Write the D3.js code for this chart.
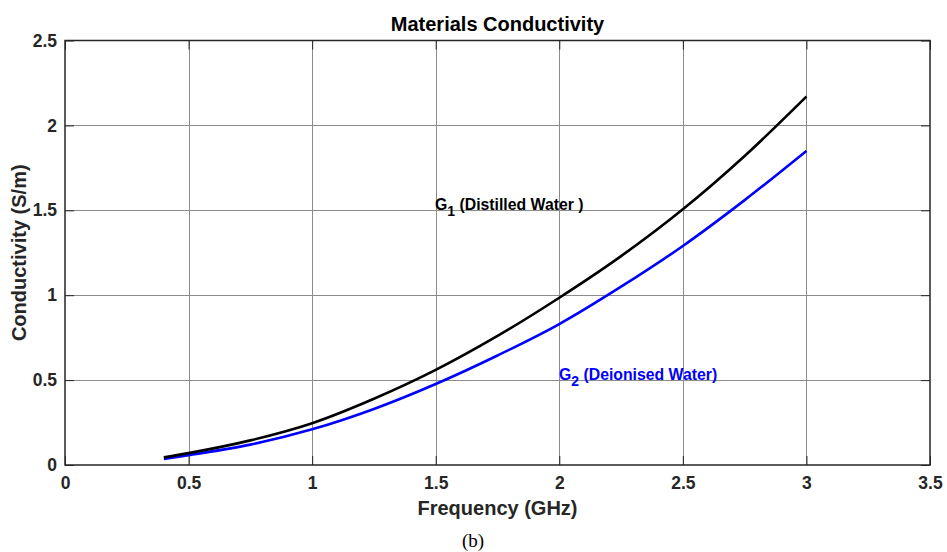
<!DOCTYPE html>
<html>
<head>
<meta charset="utf-8">
<script src="https://cdn.jsdelivr.net/npm/d3@7"></script>
<style>
  html, body { margin: 0; padding: 0; background: #fff; }
  svg { display: block; }
  text { font-family: "Liberation Sans", Arial, sans-serif; }
</style>
</head>
<body>
<div id="chart"></div>
<script>
// Frequency samples (GHz)
const frequency = [0.4, 0.5, 0.75, 1.0, 1.25, 1.5, 1.75, 2.0, 2.25, 2.5, 2.75, 3.0];
// Conductivity (S/m) for distilled water (G1)
const distilled = [0.045, 0.07, 0.145, 0.246, 0.39, 0.56, 0.76, 0.985, 1.23, 1.506, 1.82, 2.17];
// Conductivity (S/m) for deionised water (G2)
const deionised = [0.035, 0.058, 0.12, 0.21, 0.33, 0.477, 0.645, 0.83, 1.05, 1.29, 1.56, 1.85];

const xTicks = [0, 0.5, 1, 1.5, 2, 2.5, 3, 3.5];
const yTicks = [0, 0.5, 1, 1.5, 2, 2.5];

const W = 947, H = 552;
const margin = { left: 65, right: 17, top: 40.5, bottom: 87 };

const svg = d3.select("#chart").append("svg")
  .attr("width", W).attr("height", H);

const x = d3.scaleLinear().domain([0, 3.5]).range([margin.left, W - margin.right]);
const y = d3.scaleLinear().domain([0, 2.5]).range([H - margin.bottom, margin.top]);

const x0 = x.range()[0], x1 = x.range()[1];
const y0 = y.range()[0], y1 = y.range()[1];

// grid
const grid = svg.append("g").attr("stroke", "#8c8c8c").attr("stroke-width", 1);
grid.selectAll("line.v").data(xTicks.slice(1, -1)).join("line")
  .attr("x1", d => Math.round(x(d)) + 0.5).attr("x2", d => Math.round(x(d)) + 0.5)
  .attr("y1", y1).attr("y2", y0);
grid.selectAll("line.h").data(yTicks.slice(1, -1)).join("line")
  .attr("x1", x0).attr("x2", x1)
  .attr("y1", d => Math.round(y(d)) + 0.5).attr("y2", d => Math.round(y(d)) + 0.5);

// axes with inward ticks
const axisColor = "#262626";
const tickLen = 9;
const xAxis = svg.append("g").attr("transform", `translate(0,${y0})`)
  .call(d3.axisBottom(x).tickValues(xTicks).tickSizeInner(-tickLen).tickSizeOuter(0).tickPadding(12)
    .tickFormat(d3.format("~g")));
const xAxisTop = svg.append("g").attr("transform", `translate(0,${y1})`)
  .call(d3.axisTop(x).tickValues(xTicks).tickSizeInner(-tickLen).tickSizeOuter(0).tickFormat(""));
const yAxis = svg.append("g").attr("transform", `translate(${x0},0)`)
  .call(d3.axisLeft(y).tickValues(yTicks).tickSizeInner(-tickLen).tickSizeOuter(0).tickPadding(8)
    .tickFormat(d3.format("~g")));
const yAxisRight = svg.append("g").attr("transform", `translate(${x1},0)`)
  .call(d3.axisRight(y).tickValues(yTicks).tickSizeInner(-tickLen).tickSizeOuter(0).tickFormat(""));

[xAxis, xAxisTop, yAxis, yAxisRight].forEach(g => {
  g.select(".domain").remove();
  g.selectAll(".tick line").attr("stroke", axisColor).attr("stroke-width", 1);
  g.selectAll(".tick text").attr("fill", axisColor)
    .style("font-size", "17.5px").style("font-weight", "bold")
    .style("font-family", "'Liberation Sans', Arial, sans-serif");
});

// plot box
svg.append("rect")
  .attr("x", x0).attr("y", y1).attr("width", x1 - x0).attr("height", y0 - y1)
  .attr("fill", "none").attr("stroke", axisColor).attr("stroke-width", 1.5);

// curves
const line = d3.line().x(d => x(d[0])).y(d => y(d[1])).curve(d3.curveMonotoneX);
svg.append("path")
  .datum(frequency.map((f, i) => [f, deionised[i]]))
  .attr("d", line).attr("fill", "none").attr("stroke", "#0000ff").attr("stroke-width", 2.6);
svg.append("path")
  .datum(frequency.map((f, i) => [f, distilled[i]]))
  .attr("d", line).attr("fill", "none").attr("stroke", "#000").attr("stroke-width", 2.6);

// curve labels
function label(px, py, sub, rest, color) {
  const t = svg.append("text").attr("x", px).attr("y", py)
    .attr("fill", color).style("font-size", "15.8px").style("font-weight", "bold");
  t.append("tspan").text("G");
  t.append("tspan").attr("dy", 6).style("font-size", "14px").text(sub);
  t.append("tspan").attr("dy", -6).text(" " + rest);
}
label(435, 210, "1", "(Distilled Water )", "#000");
label(559, 380, "2", "(Deionised Water)", "#0000ff");

// titles
svg.append("text").attr("x", (x0 + x1) / 2).attr("y", 31)
  .attr("text-anchor", "middle").attr("fill", "#000")
  .style("font-size", "20px").style("font-weight", "bold").text("Materials Conductivity");
svg.append("text").attr("x", (x0 + x1) / 2).attr("y", 515)
  .attr("text-anchor", "middle").attr("fill", axisColor)
  .style("font-size", "20px").style("font-weight", "bold").text("Frequency (GHz)");
svg.append("text")
  .attr("transform", `translate(26,${(y0 + y1) / 2}) rotate(-90)`)
  .attr("text-anchor", "middle").attr("fill", axisColor)
  .style("font-size", "20px").style("font-weight", "bold").text("Conductivity (S/m)");
svg.append("text").attr("x", 473).attr("y", 547)
  .attr("text-anchor", "middle").attr("fill", "#000")
  .style("font-family", "'Liberation Serif', 'Times New Roman', serif")
  .style("font-size", "19px").text("(b)");
</script>
</body>
</html>
